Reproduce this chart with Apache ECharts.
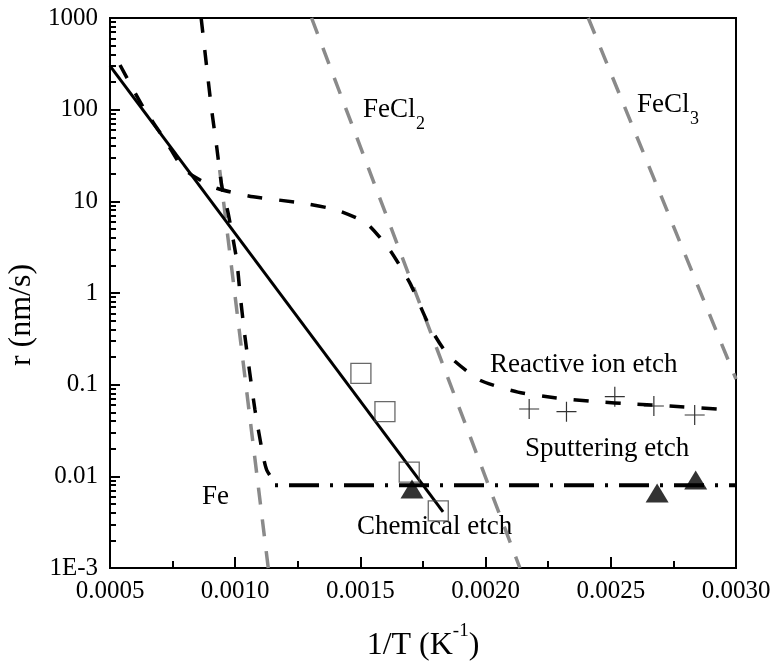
<!DOCTYPE html>
<html><head><meta charset="utf-8">
<script src="https://cdn.jsdelivr.net/npm/echarts@6/dist/echarts.min.js"></script>
<style>html,body{margin:0;padding:0;background:#fff}#c{width:775px;height:666px}</style>
</head><body><div id="c"></div>
<script>
// ---- data ----
const xTickLabels = ['0.0005','0.0010','0.0015','0.0020','0.0025','0.0030'];
const yTickLabels = ['1E-3','0.01','0.1','1','10','100','1000'];

const feVapor    = [[0.000938, 22], [0.001132, 0.001]];
const fecl2Vapor = [[0.001305, 1000], [0.002137, 0.001]];
const fecl3Vapor = [[0.00241, 1000], [0.00300, 0.115]];

const chemicalFit = [[0.0005, 300], [0.00183, 0.0041]];

const thermalCurve = [
  [0.000864, 1000], [0.000886, 294], [0.000906, 99], [0.000926, 39.5],
  [0.000946, 15], [0.000972, 7.4], [0.001006, 2.29], [0.001019, 1],
  [0.001039, 0.333], [0.001079, 0.053], [0.001112, 0.0164],
  [0.001126, 0.0117], [0.001159, 0.0084]
];
const sputterLevel = [[0.001159, 0.008], [0.00300, 0.008]];

const reactiveCurve = [
  [0.00054, 307], [0.000632, 107], [0.000728, 43], [0.000787, 23.7],
  [0.000839, 18.4], [0.000926, 13.9], [0.001072, 11.2], [0.001258, 9.66],
  [0.001405, 8.05], [0.001525, 5.75], [0.001618, 2.94], [0.001698, 1.28],
  [0.001777, 0.428], [0.00185, 0.211], [0.001977, 0.112], [0.002129, 0.083],
  [0.002283, 0.0716], [0.002443, 0.0652], [0.002589, 0.0615],
  [0.002736, 0.0585], [0.00294, 0.054]
];

const squarePoints   = [[0.001502, 0.133], [0.001598, 0.0507], [0.001695, 0.0111], [0.001811, 0.00419]];
const trianglePoints = [[0.001706, 0.00728], [0.002685, 0.0066], [0.002839, 0.0091]];
const plusPoints     = [[0.002174, 0.0543], [0.002323, 0.0507], [0.002516, 0.074], [0.002672, 0.0585], [0.002835, 0.0467]];

// ---- chart ----
const FF = '"Liberation Serif", "Times New Roman", serif';
const chart = echarts.init(document.getElementById('c'), null, {renderer: 'canvas'});
const greyDash = {color: '#8a8a8a', width: 3.5, type: [17, 15], cap: 'butt'};
const blackDash = {color: '#000', width: 3.5, type: [15, 17], cap: 'butt'};

chart.setOption({
  animation: false,
  backgroundColor: '#fff',
  grid: {left: 110, top: 18, right: 39, bottom: 98, show: true, borderColor: '#000', borderWidth: 2,
    backgroundColor: 'transparent', containLabel: false, outerBoundsMode: 'none'},
  xAxis: {
    type: 'value', min: 0.0005, max: 0.0030, interval: 0.0005,
    axisLine: {show: true, onZero: false, lineStyle: {color: '#000', width: 2}},
    axisTick: {show: true, inside: true, length: 11, lineStyle: {color: '#000', width: 2}},
    minorTick: {show: true, splitNumber: 2, length: 7, lineStyle: {color: '#000', width: 2}},
    splitLine: {show: false}, minorSplitLine: {show: false},
    axisLabel: {
      margin: 11, color: '#000', fontFamily: FF, fontSize: 25,
      formatter: v => xTickLabels[Math.round((v - 0.0005) / 0.0005)]
    },
    name: '{a|1/T (K}{b|-1}{a|)}', nameLocation: 'middle', nameGap: 54,
    nameTextStyle: {
      rich: {
        a: {fontFamily: FF, fontSize: 32, color: '#000', lineHeight: 40, verticalAlign: 'bottom'},
        b: {fontFamily: FF, fontSize: 19, color: '#000', lineHeight: 16, verticalAlign: 'top'}
      }
    }
  },
  yAxis: {
    type: 'log', logBase: 10, min: 0.001, max: 1000, interval: 1,
    axisLine: {show: true, onZero: false, lineStyle: {color: '#000', width: 2}},
    axisTick: {show: true, inside: true, length: 10, lineStyle: {color: '#000', width: 2}},
    minorTick: {show: true, splitNumber: 9, length: 6, lineStyle: {color: '#000', width: 2}},
    splitLine: {show: false}, minorSplitLine: {show: false},
    axisLabel: {
      margin: 12, color: '#000', fontFamily: FF, fontSize: 25,
      formatter: v => yTickLabels[Math.round(Math.log10(v)) + 3]
    },
    name: 'r (nm/s)', nameLocation: 'middle', nameGap: 50,
    nameTextStyle: {fontFamily: FF, fontSize: 32, color: '#000', padding: [0, 44, 0, 0]}
  },
  series: [
    {type: 'line', data: feVapor, symbol: 'none', lineStyle: greyDash, z: 2},
    {type: 'line', data: fecl2Vapor, symbol: 'none', lineStyle: greyDash, z: 2},
    {type: 'line', data: fecl3Vapor, symbol: 'none', lineStyle: greyDash, z: 2},
    {type: 'line', data: chemicalFit, symbol: 'none', lineStyle: {color: '#000', width: 3}, z: 3},
    {type: 'line', data: thermalCurve, symbol: 'none', smooth: 0.2, lineStyle: blackDash, z: 3},
    {type: 'line', data: sputterLevel, symbol: 'none', lineStyle: {color: '#000', width: 4, type: [3, 11, 30, 11], cap: 'butt'}, z: 3},
    {type: 'line', data: reactiveCurve, symbol: 'none', smooth: 0.2, lineStyle: blackDash, z: 3},
    {type: 'scatter', data: squarePoints, symbol: 'rect', symbolSize: 20,
      itemStyle: {color: 'rgba(0,0,0,0)', borderColor: '#444', borderWidth: 1.3}, z: 5},
    {type: 'scatter', data: trianglePoints, symbol: 'triangle', symbolSize: [23, 19],
      itemStyle: {color: '#000'}, z: 5},
    {type: 'scatter', data: plusPoints, symbol: 'path://M10,0L10,20M0,10L20,10', symbolSize: 20,
      itemStyle: {color: 'rgba(0,0,0,0)', borderColor: '#000', borderWidth: 1.2}, z: 5}
  ],
  graphic: [
    {type: 'text', left: 363, top: 96, style: {text: 'FeCl', font: '27px ' + FF, fill: '#000'}},
    {type: 'text', left: 416, top: 115, style: {text: '2', font: '18px ' + FF, fill: '#000'}},
    {type: 'text', left: 637, top: 91, style: {text: 'FeCl', font: '27px ' + FF, fill: '#000'}},
    {type: 'text', left: 690, top: 110, style: {text: '3', font: '18px ' + FF, fill: '#000'}},
    {type: 'text', left: 490, top: 351, style: {text: 'Reactive ion etch', font: '27px ' + FF, fill: '#000'}},
    {type: 'text', left: 525, top: 435, style: {text: 'Sputtering etch', font: '27px ' + FF, fill: '#000'}},
    {type: 'text', left: 202, top: 483, style: {text: 'Fe', font: '27px ' + FF, fill: '#000'}},
    {type: 'text', left: 357, top: 513, style: {text: 'Chemical etch', font: '27px ' + FF, fill: '#000'}}
  ]
});
</script></body></html>
